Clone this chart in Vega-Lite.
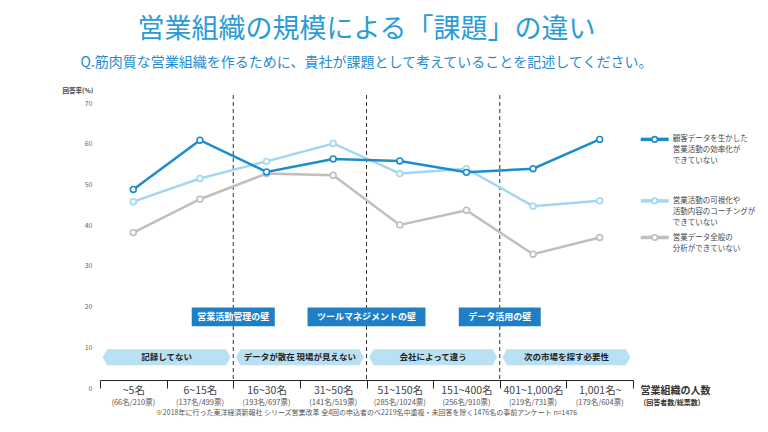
{
  "$schema": "https://vega.github.io/schema/vega-lite/v6.json",
  "width": 533,
  "height": 285,
  "autosize": {"type": "none"},
  "padding": {"left": 100, "top": 95, "right": 135, "bottom": 52},
  "background": "white",
  "config": {"font": "Noto Sans CJK JP", "view": {"stroke": null}},
  "title": {
    "text": "営業組織の規模による「課題」の違い",
    "subtitle": "Q.筋肉質な営業組織を作るために、貴社が課題として考えていることを記述してください。",
    "anchor": "middle",
    "frame": "group",
    "fontSize": 27,
    "fontWeight": "normal",
    "color": "#2a9bd8",
    "subtitleFontSize": 14,
    "subtitleColor": "#1f8bd0",
    "subtitleFontWeight": "normal",
    "subtitlePadding": 12,
    "offset": 16
  },
  "datasets": {
    "rates": [
      {"size": "~5名", "series": "営業データ全般の\n分析ができていない", "value": 36.2},
      {"size": "6~15名", "series": "営業データ全般の\n分析ができていない", "value": 44.4},
      {"size": "16~30名", "series": "営業データ全般の\n分析ができていない", "value": 50.7},
      {"size": "31~50名", "series": "営業データ全般の\n分析ができていない", "value": 50.3},
      {"size": "51~150名", "series": "営業データ全般の\n分析ができていない", "value": 38.1},
      {"size": "151~400名", "series": "営業データ全般の\n分析ができていない", "value": 41.7},
      {"size": "401~1,000名", "series": "営業データ全般の\n分析ができていない", "value": 30.9},
      {"size": "1,001名~", "series": "営業データ全般の\n分析ができていない", "value": 35.0},
      {"size": "~5名", "series": "営業活動の可視化や\n活動内容のコーチングが\nできていない", "value": 43.8},
      {"size": "6~15名", "series": "営業活動の可視化や\n活動内容のコーチングが\nできていない", "value": 49.5},
      {"size": "16~30名", "series": "営業活動の可視化や\n活動内容のコーチングが\nできていない", "value": 53.7},
      {"size": "31~50名", "series": "営業活動の可視化や\n活動内容のコーチングが\nできていない", "value": 58.1},
      {"size": "51~150名", "series": "営業活動の可視化や\n活動内容のコーチングが\nできていない", "value": 50.7},
      {"size": "151~400名", "series": "営業活動の可視化や\n活動内容のコーチングが\nできていない", "value": 51.9},
      {"size": "401~1,000名", "series": "営業活動の可視化や\n活動内容のコーチングが\nできていない", "value": 42.7},
      {"size": "1,001名~", "series": "営業活動の可視化や\n活動内容のコーチングが\nできていない", "value": 44.0},
      {"size": "~5名", "series": "顧客データを生かした\n営業活動の効率化が\nできていない", "value": 46.8},
      {"size": "6~15名", "series": "顧客データを生かした\n営業活動の効率化が\nできていない", "value": 58.9},
      {"size": "16~30名", "series": "顧客データを生かした\n営業活動の効率化が\nできていない", "value": 51.1},
      {"size": "31~50名", "series": "顧客データを生かした\n営業活動の効率化が\nできていない", "value": 54.3},
      {"size": "51~150名", "series": "顧客データを生かした\n営業活動の効率化が\nできていない", "value": 53.8},
      {"size": "151~400名", "series": "顧客データを生かした\n営業活動の効率化が\nできていない", "value": 51.0},
      {"size": "401~1,000名", "series": "顧客データを生かした\n営業活動の効率化が\nできていない", "value": 51.9},
      {"size": "1,001名~", "series": "顧客データを生かした\n営業活動の効率化が\nできていない", "value": 59.1}
    ],
    "cats": [
      {"size": "~5名", "count": "(66名/210票)"},
      {"size": "6~15名", "count": "(137名/499票)"},
      {"size": "16~30名", "count": "(193名/697票)"},
      {"size": "31~50名", "count": "(141名/519票)"},
      {"size": "51~150名", "count": "(285名/1024票)"},
      {"size": "151~400名", "count": "(256名/910票)"},
      {"size": "401~1,000名", "count": "(219名/731票)"},
      {"size": "1,001名~", "count": "(179名/604票)"}
    ],
    "walls": [
      {"at": "16~30名", "wall": "営業活動管理の壁"},
      {"at": "51~150名", "wall": "ツールマネジメントの壁"},
      {"at": "401~1,000名", "wall": "データ活用の壁"}
    ],
    "notes": [
      {"at": "6~15名", "note": "記録してない"},
      {"at": "31~50名", "note": "データが散在 現場が見えない"},
      {"at": "151~400名", "note": "会社によって違う"},
      {"at": "1,001名~", "note": "次の市場を探す必要性"}
    ],
    "foot": [
      {"text": "※2018年に行った東洋経済新報社 シリーズ営業改革 全4回の申込者のべ2219名中重複・未回答を除く1476名の事前アンケート n=1476"}
    ],
    "axisnote": [
      {"text": "(回答者数/総票数)"}
    ]
  },
  "layer": [
    {
      "data": {"name": "walls"},
      "mark": {"type": "rule", "strokeDash": [4, 3], "color": "#333333", "strokeWidth": 1},
      "encoding": {
        "x": {
          "field": "at", "type": "nominal", "bandPosition": 0,
          "scale": {"type": "band", "domain": ["~5名", "6~15名", "16~30名", "31~50名", "51~150名", "151~400名", "401~1,000名", "1,001名~"], "paddingInner": 0, "paddingOuter": 0},
          "axis": {
            "title": "営業組織の人数",
            "titleX": 540, "titleY": 5, "titleAlign": "left", "titleBaseline": "top",
            "titleFontSize": 10, "titleFontWeight": "bold", "titleColor": "#333333",
            "labelAngle": 0, "labelFontSize": 10.5, "labelColor": "#444444", "labelPadding": -3, "labelBaseline": "top",
            "tickBand": "extent", "tickSize": 8, "tickColor": "#222222", "domainColor": "#222222", "grid": false
          }
        }
      }
    },
    {
      "data": {"name": "notes"},
      "mark": {"type": "point", "shape": "M-1,0L-0.93,-0.125L0.93,-0.125L1,0L0.93,0.125L-0.93,0.125Z", "size": 16384, "filled": true, "color": "#b9e1f3", "opacity": 1, "strokeWidth": 0},
      "encoding": {
        "x": {"field": "at", "type": "nominal", "bandPosition": 0},
        "y": {"datum": 5.6, "type": "quantitative"}
      }
    },
    {
      "data": {"name": "notes"},
      "mark": {"type": "text", "fontSize": 8.5, "fontWeight": "bold", "color": "#222222"},
      "encoding": {
        "x": {"field": "at", "type": "nominal", "bandPosition": 0},
        "y": {"datum": 5.6, "type": "quantitative"},
        "text": {"field": "note"}
      }
    },
    {
      "data": {"name": "walls"},
      "mark": {"type": "point", "size": 14400, "filled": true, "color": "#1f7fc6", "opacity": 1, "strokeWidth": 0},
      "encoding": {
        "x": {"field": "at", "type": "nominal", "bandPosition": 0},
        "y": {"datum": 15.5, "type": "quantitative"},
        "shape": {
          "field": "wall", "type": "nominal", "legend": null,
          "scale": {
            "domain": ["営業活動管理の壁", "ツールマネジメントの壁", "データ活用の壁"],
            "range": [
              "M-0.692,-0.158L0.692,-0.158L0.692,0.158L-0.692,0.158Z",
              "M-0.983,-0.158L0.983,-0.158L0.983,0.158L-0.983,0.158Z",
              "M-0.683,-0.158L0.683,-0.158L0.683,0.158L-0.683,0.158Z"
            ]
          }
        }
      }
    },
    {
      "data": {"name": "walls"},
      "mark": {"type": "text", "fontSize": 9, "fontWeight": "bold", "color": "white"},
      "encoding": {
        "x": {"field": "at", "type": "nominal", "bandPosition": 0},
        "y": {"datum": 15.5, "type": "quantitative"},
        "text": {"field": "wall"}
      }
    },
    {
      "data": {"name": "rates"},
      "mark": {"type": "line", "strokeWidth": 2.5},
      "encoding": {
        "x": {"field": "size", "type": "nominal"},
        "y": {
          "field": "value", "type": "quantitative",
          "scale": {"domain": [0, 70], "nice": false, "zero": true},
          "axis": {
            "title": "回答率(%)", "titleAngle": 0, "titleX": -38, "titleY": -5, "titleAlign": "left", "titleBaseline": "middle",
            "titleFontSize": 6.5, "titleFontWeight": "bold", "titleColor": "#444444",
            "values": [0, 10, 20, 30, 40, 50, 60, 70],
            "labelBaseline": "top", "labelOffset": 4, "labelFontSize": 7, "labelColor": "#666666", "labelPadding": 8,
            "ticks": false, "domain": false, "gridColor": "#d6d6d6", "gridWidth": 1
          }
        },
        "color": {
          "field": "series", "type": "nominal", "legend": null,
          "scale": {
            "domain": ["顧客データを生かした\n営業活動の効率化が\nできていない", "営業活動の可視化や\n活動内容のコーチングが\nできていない", "営業データ全般の\n分析ができていない"],
            "range": ["#1d8ccd", "#a3d7f0", "#c4bdb9"]
          }
        }
      }
    },
    {
      "data": {"name": "rates"},
      "mark": {"type": "point", "filled": true, "fill": "white", "strokeWidth": 1.6, "size": 34, "opacity": 1},
      "encoding": {
        "x": {"field": "size", "type": "nominal"},
        "y": {"field": "value", "type": "quantitative"},
        "stroke": {
          "field": "series", "type": "nominal", "legend": null,
          "scale": {
            "domain": ["顧客データを生かした\n営業活動の効率化が\nできていない", "営業活動の可視化や\n活動内容のコーチングが\nできていない", "営業データ全般の\n分析ができていない"],
            "range": ["#1d8ccd", "#a3d7f0", "#c4bdb9"]
          }
        }
      }
    },
    {
      "data": {"name": "rates"},
      "transform": [{"filter": "datum.size === '1,001名~'"}],
      "mark": {"type": "point", "shape": "M-1,0L1,0", "size": 784, "filled": false, "strokeWidth": 3.5, "xOffset": 55, "opacity": 1},
      "encoding": {
        "x": {"field": "size", "type": "nominal"},
        "y": {"field": "value", "type": "quantitative"},
        "stroke": {"field": "series", "type": "nominal", "legend": null}
      }
    },
    {
      "data": {"name": "rates"},
      "transform": [{"filter": "datum.size === '1,001名~'"}],
      "mark": {"type": "point", "filled": true, "fill": "white", "strokeWidth": 1.6, "size": 30, "xOffset": 55, "opacity": 1},
      "encoding": {
        "x": {"field": "size", "type": "nominal"},
        "y": {"field": "value", "type": "quantitative"},
        "stroke": {"field": "series", "type": "nominal", "legend": null}
      }
    },
    {
      "data": {"name": "rates"},
      "transform": [{"filter": "datum.size === '1,001名~'"}],
      "mark": {"type": "text", "align": "left", "baseline": "top", "dx": 73, "dy": -4, "fontSize": 7.5, "lineHeight": 11, "lineBreak": "\n", "color": "#444444"},
      "encoding": {
        "x": {"field": "size", "type": "nominal"},
        "y": {"field": "value", "type": "quantitative"},
        "text": {"field": "series"}
      }
    },
    {
      "data": {"name": "cats"},
      "mark": {"type": "text", "fontSize": 7.5, "color": "#555555", "dy": 23},
      "encoding": {
        "x": {"field": "size", "type": "nominal"},
        "y": {"datum": 0, "type": "quantitative"},
        "text": {"field": "count"}
      }
    },
    {
      "data": {"name": "axisnote"},
      "mark": {"type": "text", "fontSize": 7, "fontWeight": "bold", "color": "#333333", "dy": 23, "dx": 39},
      "encoding": {
        "x": {"datum": "1,001名~", "type": "nominal", "bandPosition": 1},
        "y": {"datum": 0, "type": "quantitative"},
        "text": {"field": "text"}
      }
    },
    {
      "data": {"name": "foot"},
      "mark": {"type": "text", "fontSize": 7, "color": "#555555", "dy": 33},
      "encoding": {
        "x": {"datum": "51~150名", "type": "nominal", "bandPosition": 0},
        "y": {"datum": 0, "type": "quantitative"},
        "text": {"field": "text"}
      }
    }
  ]
}
